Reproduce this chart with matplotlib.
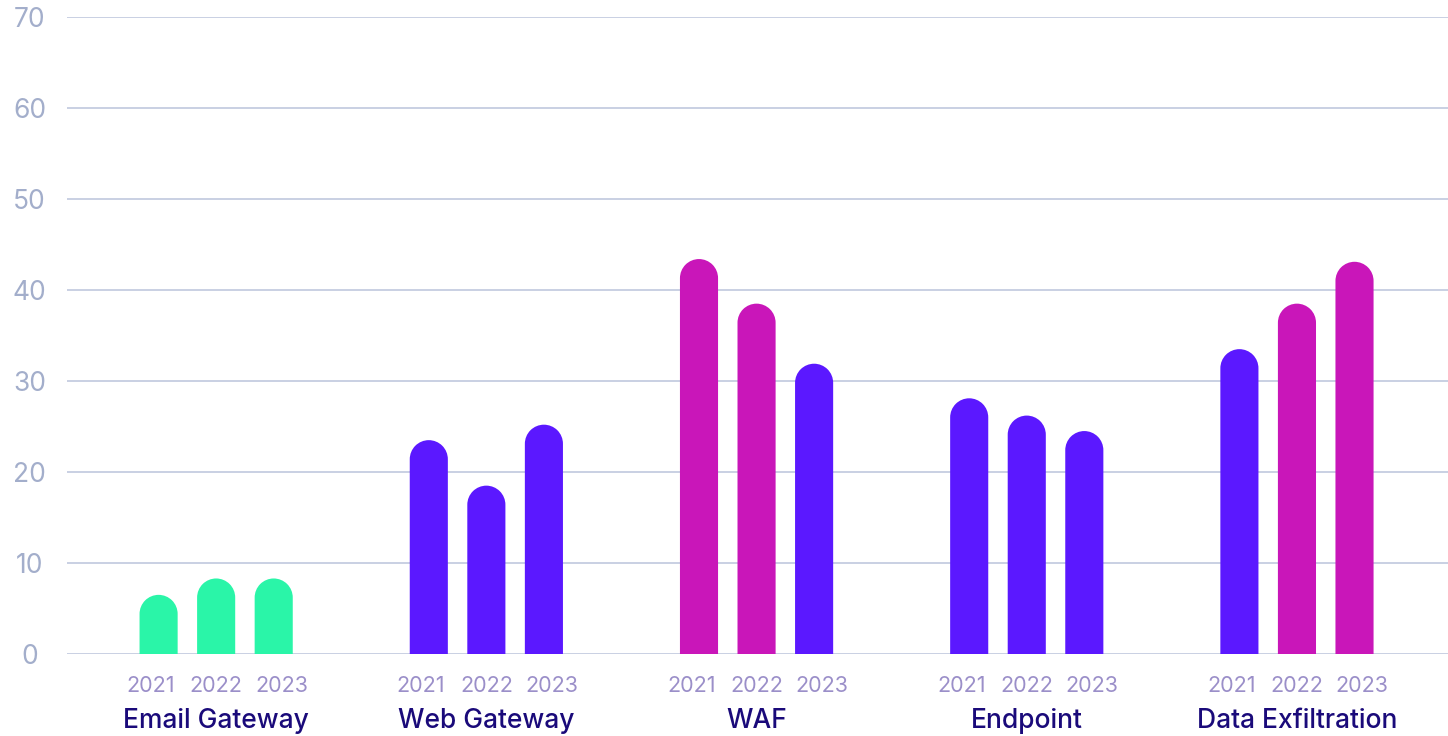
import numpy as np
import matplotlib
matplotlib.use("Agg")
import matplotlib.pyplot as plt
from matplotlib.patches import PathPatch
from matplotlib.path import Path
from matplotlib.transforms import blended_transform_factory

plt.rcParams['font.family'] = ['Inter', 'DejaVu Sans']

categories = ["Email Gateway", "Web Gateway", "WAF", "Endpoint", "Data Exfiltration"]
years = ["2021", "2022", "2023"]
values = [
    [6.5, 8.3, 8.3],
    [23.5, 18.5, 25.2],
    [43.4, 38.5, 31.9],
    [28.1, 26.2, 24.5],
    [33.5, 38.5, 43.1],
]
GREEN = "#2af5a8"
PURPLE = "#5b18ff"
MAGENTA = "#c916b9"
bar_colors = [
    [GREEN, GREEN, GREEN],
    [PURPLE, PURPLE, PURPLE],
    [MAGENTA, MAGENTA, PURPLE],
    [PURPLE, PURPLE, PURPLE],
    [PURPLE, MAGENTA, MAGENTA],
]

W, H = 1448, 736
fig = plt.figure(figsize=(W / 100, H / 100), dpi=100)
ax = fig.add_axes([67 / W, 82 / H, (W - 67) / W, (654 - 17) / H])
x0, x1 = -0.552, 4.559
ax.set_xlim(x0, x1)
ax.set_ylim(0, 70)

for s in ax.spines.values():
    s.set_visible(False)
ax.set_yticks(range(0, 71, 10))
ax.yaxis.grid(True, color="#c5cde0", linewidth=1.3)
ax.set_axisbelow(True)
ax.tick_params(axis="y", length=0, pad=27, labelsize=19, labelcolor="#a3aecb")
for lbl in ax.get_yticklabels():
    lbl.set_horizontalalignment("center")
ax.set_xticks([])

offset = 0.213
label_offset = 0.242
bw = 0.141
# vertical radius of the rounded cap, in data units, so the cap looks circular
px_per_unit = (654 - 17) / 70.0
px_per_x = (W - 67) / (x1 - x0)
rx = bw / 2
ry = (rx * px_per_x) / px_per_unit

arc = Path.arc(0, 180)


def rounded_bar(x, v):
    cy = max(v - ry, 0)
    arc_verts = arc.vertices * np.array([rx, ry]) + np.array([x, cy])
    verts = [(x + rx, 0)] + [tuple(p) for p in arc_verts] + [(x - rx, 0), (x + rx, 0)]
    codes = [Path.MOVETO, Path.LINETO] + list(arc.codes[1:]) + [Path.LINETO, Path.CLOSEPOLY]
    return Path(verts, codes)


for gi, cat in enumerate(categories):
    for yi, yr in enumerate(years):
        x = gi + (yi - 1) * offset
        ax.add_patch(PathPatch(rounded_bar(x, values[gi][yi]),
                               facecolor=bar_colors[gi][yi], edgecolor="none",
                               zorder=3))

trans = blended_transform_factory(ax.transData, fig.transFigure)
for gi, cat in enumerate(categories):
    for yi, yr in enumerate(years):
        x = gi + (yi - 1) * label_offset
        ax.text(x, 1 - 686 / H, yr, transform=trans, ha="center", va="center",
                fontsize=15.5, color="#9b8fc9")
    ax.text(gi, 1 - 721 / H, cat, transform=trans, ha="center", va="center",
            fontsize=19, color="#1a0a7a", fontweight="medium")

fig.savefig("out.png", dpi=100)
